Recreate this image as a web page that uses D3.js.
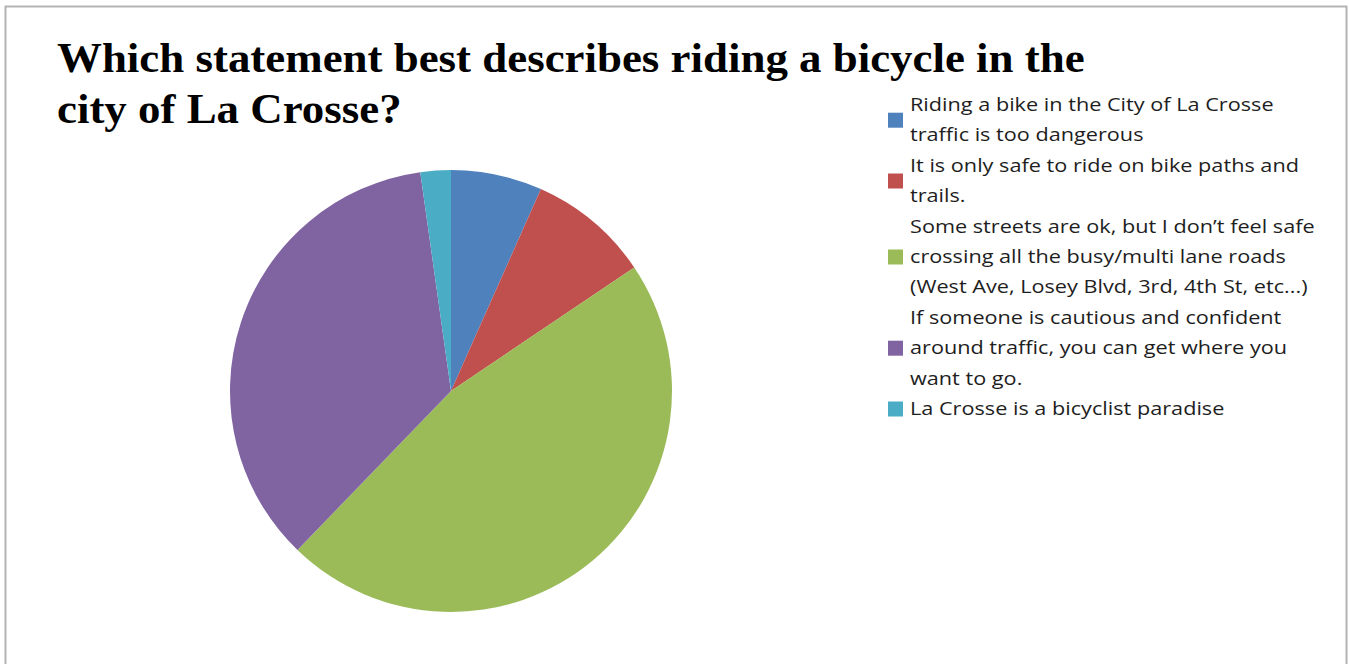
<!DOCTYPE html>
<meta charset="utf-8">
<title>Riding a bicycle in La Crosse</title>
<style>
body {
  margin: 0;
  background: #fff;
}
.title {
  font-family: "Liberation Serif", "Times New Roman", serif;
  font-weight: bold;
  font-size: 43px;
  fill: #000;
}
.legend text {
  font-family: "Open Sans", sans-serif;
  font-size: 18px;
  fill: #1e1e1e;
}
</style>
<script src="https://cdn.jsdelivr.net/npm/d3@7"></script>
<body>
<script>
'use strict';

const answers = [
  ["Riding a bike in the City of La Crosse", "traffic is too dangerous"],
  ["It is only safe to ride on bike paths and", "trails."],
  ["Some streets are ok, but I don\u2019t feel safe", "crossing all the busy/multi lane roads", "(West Ave, Losey Blvd, 3rd, 4th St, etc...)"],
  ["If someone is cautious and confident", "around traffic, you can get where you", "want to go."],
  ["La Crosse is a bicyclist paradise"]
];
const counts = [3, 4, 21, 16, 1];
const colors = ["#4F81BD", "#C0504D", "#9BBB59", "#8064A2", "#4BACC6"];
const titleLines = ["Which statement best describes riding a bicycle in the", "city of La Crosse?"];

const width = 1349, height = 664;
const cx = 451, cy = 391, radius = 221;

const svg = d3.select("body").append("svg")
    .attr("width", width)
    .attr("height", height);

// chart frame
svg.append("rect")
    .attr("x", 5.5).attr("y", 6.5)
    .attr("width", 1341).attr("height", 720)
    .attr("fill", "#fff")
    .attr("stroke", "#b3b3b3")
    .attr("stroke-width", 2);

// title (condensed like the original)
const tg = svg.append("g");
const tText = tg.selectAll("text")
    .data(titleLines)
  .enter().append("text")
    .attr("class", "title")
    .attr("x", 0)
    .attr("y", (d, i) => 72 + i * 51)
    .text(d => d);
const w0 = tText.node().getComputedTextLength();
tg.attr("transform", `translate(57,0) scale(${1028 / w0},1)`);

// pie
const pie = d3.pie().sort(null).value(d => d);
const arc = d3.arc().innerRadius(0).outerRadius(radius);

svg.append("g")
    .attr("transform", `translate(${cx},${cy})`)
  .selectAll("path")
    .data(pie(counts))
  .enter().append("path")
    .attr("d", arc)
    .attr("fill", (d, i) => colors[i]);

// legend
const lineH = 30.4, firstBase = 111;
let lineIdx = 0;
const legend = svg.append("g").attr("class", "legend");
const lg = legend.append("g");
answers.forEach((lines, i) => {
  const start = lineIdx;
  lines.forEach((l, j) => {
    lg.append("text")
        .attr("x", 0)
        .attr("y", firstBase + (start + j) * lineH)
        .text(l);
  });
  const mid = firstBase + (start + (lines.length - 1) / 2) * lineH - 6;
  legend.append("rect")
      .attr("x", 888)
      .attr("y", mid - 7.5)
      .attr("width", 15)
      .attr("height", 15)
      .attr("fill", colors[i]);
  lineIdx += lines.length;
});
const w1 = lg.select("text").node().getComputedTextLength();
lg.attr("transform", `translate(910,0) scale(${364 / w1},1)`);
</script>
